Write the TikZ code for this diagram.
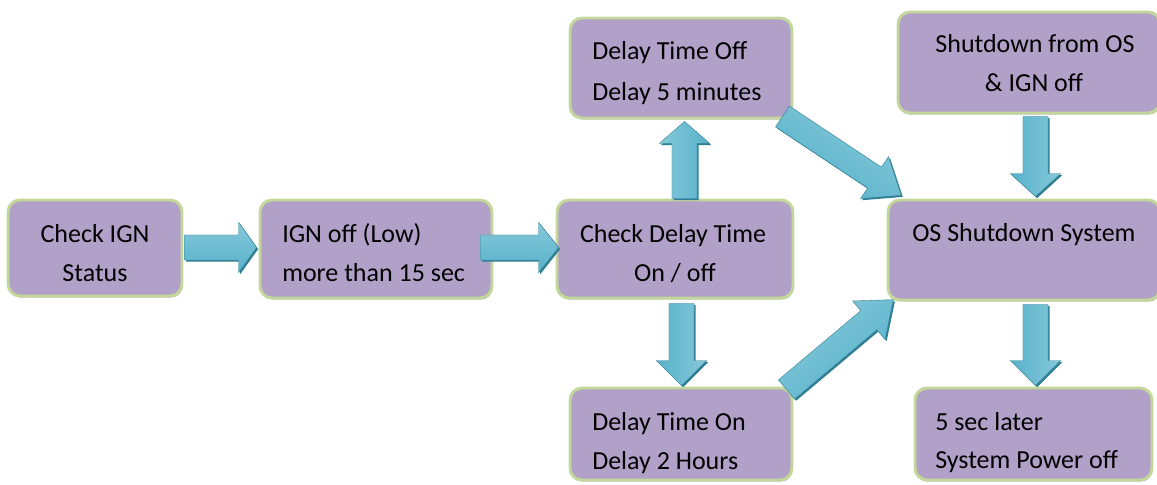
\documentclass[tikz,border=0pt]{standalone}
\usepackage{fontspec}
\setmainfont{Carlito}
\usetikzlibrary{calc,shadows}

\definecolor{boxfill}{HTML}{B1A0C7}
\definecolor{boxline}{HTML}{C4D79B}
\definecolor{arrmain}{HTML}{4BACC6}
\definecolor{arrlight}{HTML}{86C8DA}
\definecolor{arrdark}{HTML}{2E7F95}

\tikzset{
  box/.style={draw=boxline, line width=2.2pt, fill=boxfill, rounded corners=9pt,
    inner sep=0pt,
    drop shadow={shadow xshift=0.6pt, shadow yshift=-1.3pt, fill=black!55, opacity=0.45}},
  lbl/.style={anchor=base west, inner sep=0pt, font=\fontsize{19.5}{30}\selectfont},
  clbl/.style={lbl, anchor=base},
}

% block arrow from tail #1 to tip #2, head length #3 (in px units)
\newcommand\blockarrow[3]{%
  \path let \p1=($(#2)-(#1)$), \n1={atan2(\y1,\x1)}, \n2={veclen(\x1,\y1)} in
    \pgfextra{\xdef\barang{\n1}\xdef\barraw{\n2}};
  \pgfmathsetmacro\barlen{\barraw}%
  \pgfmathsetmacro\barneck{\barlen-#3*0.75}%
  \begin{scope}[shift={(#1)}, xshift=1.2pt, yshift=-1.2pt, rotate=\barang]
    \fill[arrdark] (0pt,-9.4pt) -- (\barneck pt,-9.4pt) -- (\barneck pt,-18.9pt)
      -- (\barlen pt,0pt) -- (\barneck pt,18.9pt) -- (\barneck pt,9.4pt) -- (0pt,9.4pt) -- cycle;
  \end{scope}
  \begin{scope}[shift={(#1)}, rotate=\barang]
    \shade[top color=arrlight, middle color=arrmain, bottom color=arrmain!80!arrlight,
      shading angle=\barang, draw=arrmain!75!black, line width=0.3pt]
      (0pt,-9.4pt) -- (\barneck pt,-9.4pt) -- (\barneck pt,-18.9pt)
      -- (\barlen pt,0pt) -- (\barneck pt,18.9pt) -- (\barneck pt,9.4pt) -- (0pt,9.4pt) -- cycle;
  \end{scope}}

\begin{document}
\begin{tikzpicture}[x=0.75pt, y=-0.75pt]
  \useasboundingbox (0,0) rectangle (1157,485);

  % process boxes
  \node[box, minimum width=174*0.75pt, minimum height=96*0.75pt]  (b1) at (95,248) {};
  \node[box, minimum width=232*0.75pt, minimum height=98*0.75pt]  (b2) at (376,249) {};
  \node[box, minimum width=236*0.75pt, minimum height=98*0.75pt]  (b3) at (675,249) {};
  \node[box, minimum width=222*0.75pt, minimum height=100*0.75pt] (b4) at (681,68) {};
  \node[box, minimum width=262*0.75pt, minimum height=101*0.75pt] (b5) at (1029,62.5) {};
  \node[box, minimum width=272*0.75pt, minimum height=100*0.75pt] (b6) at (1024,250) {};
  \node[box, minimum width=222*0.75pt, minimum height=92*0.75pt]  (b7) at (681,434) {};
  \node[box, minimum width=237*0.75pt, minimum height=92*0.75pt]  (b8) at (1033.5,434) {};

  % labels
  \node[clbl] (t1a) at (95,242) {Check IGN};
  \node[clbl] (t1b) at (95,281) {Status};
  \node[lbl]  (t2a) at (282,242) {IGN off (Low)};
  \node[lbl]  (t2b) at (282,281) {more than 15 sec};
  \node[clbl] (t3a) at (673,242) {Check Delay Time};
  \node[clbl] (t3b) at (675,281) {On / off};
  \node[lbl]  (t4a) at (592,60) {Delay Time Off};
  \node[lbl]  (t4b) at (592,100) {Delay 5 minutes};
  \node[clbl] (t5a) at (1035,53) {Shutdown from OS};
  \node[clbl] (t5b) at (1034,92) {\& IGN off};
  \node[lbl]  (t6a) at (912,241) {OS Shutdown System};
  \node[lbl]  (t7a) at (592,430) {Delay Time On};
  \node[lbl]  (t7b) at (592,469) {Delay 2 Hours};
  \node[lbl]  (t8a) at (935,430) {5 sec later};
  \node[lbl]  (t8b) at (935,468) {System Power off};

  % arrow end points
  \coordinate (a12s) at ($(b1.east)+(1,-0.5)$);
  \coordinate (a12e) at ($(b2.west)+(-2,-1.5)$);
  \coordinate (a23s) at ($(b2.east)+(-13,-1.5)$);
  \coordinate (a23e) at ($(b3.west)+(3,-1.5)$);
  \coordinate (a34s) at ($(b3.north)+(9.5,0)$);
  \coordinate (a34e) at ($(b4.south)+(3.5,2)$);
  \coordinate (a37s) at ($(b3.south)+(6.5,4)$);
  \coordinate (a37e) at ($(b7.north)+(0.5,-1)$);
  \coordinate (a46s) at ($(b4.south east)+(-11,-3)$);
  \coordinate (a46e) at ($(b6.north west)+(15,-3)$);
  \coordinate (a76s) at ($(b7.north east)+(-7,3)$);
  \coordinate (a76e) at ($(b6.south west)+(7,-2)$);
  \coordinate (a56s) at ($(b5.south)+(6.5,2)$);
  \coordinate (a56e) at ($(b6.north)+(11.5,-2)$);
  \coordinate (a68s) at ($(b6.south)+(11.5,3)$);
  \coordinate (a68e) at ($(b8.north)+(2,-1)$);

  % block arrows
  \blockarrow{a12s}{a12e}{18}
  \blockarrow{a23s}{a23e}{20}
  \blockarrow{a34s}{a34e}{22}
  \blockarrow{a37s}{a37e}{25}
  \blockarrow{a46s}{a46e}{32}
  \blockarrow{a76s}{a76e}{32}
  \blockarrow{a56s}{a56e}{23}
  \blockarrow{a68s}{a68e}{25}
\end{tikzpicture}
\end{document}
